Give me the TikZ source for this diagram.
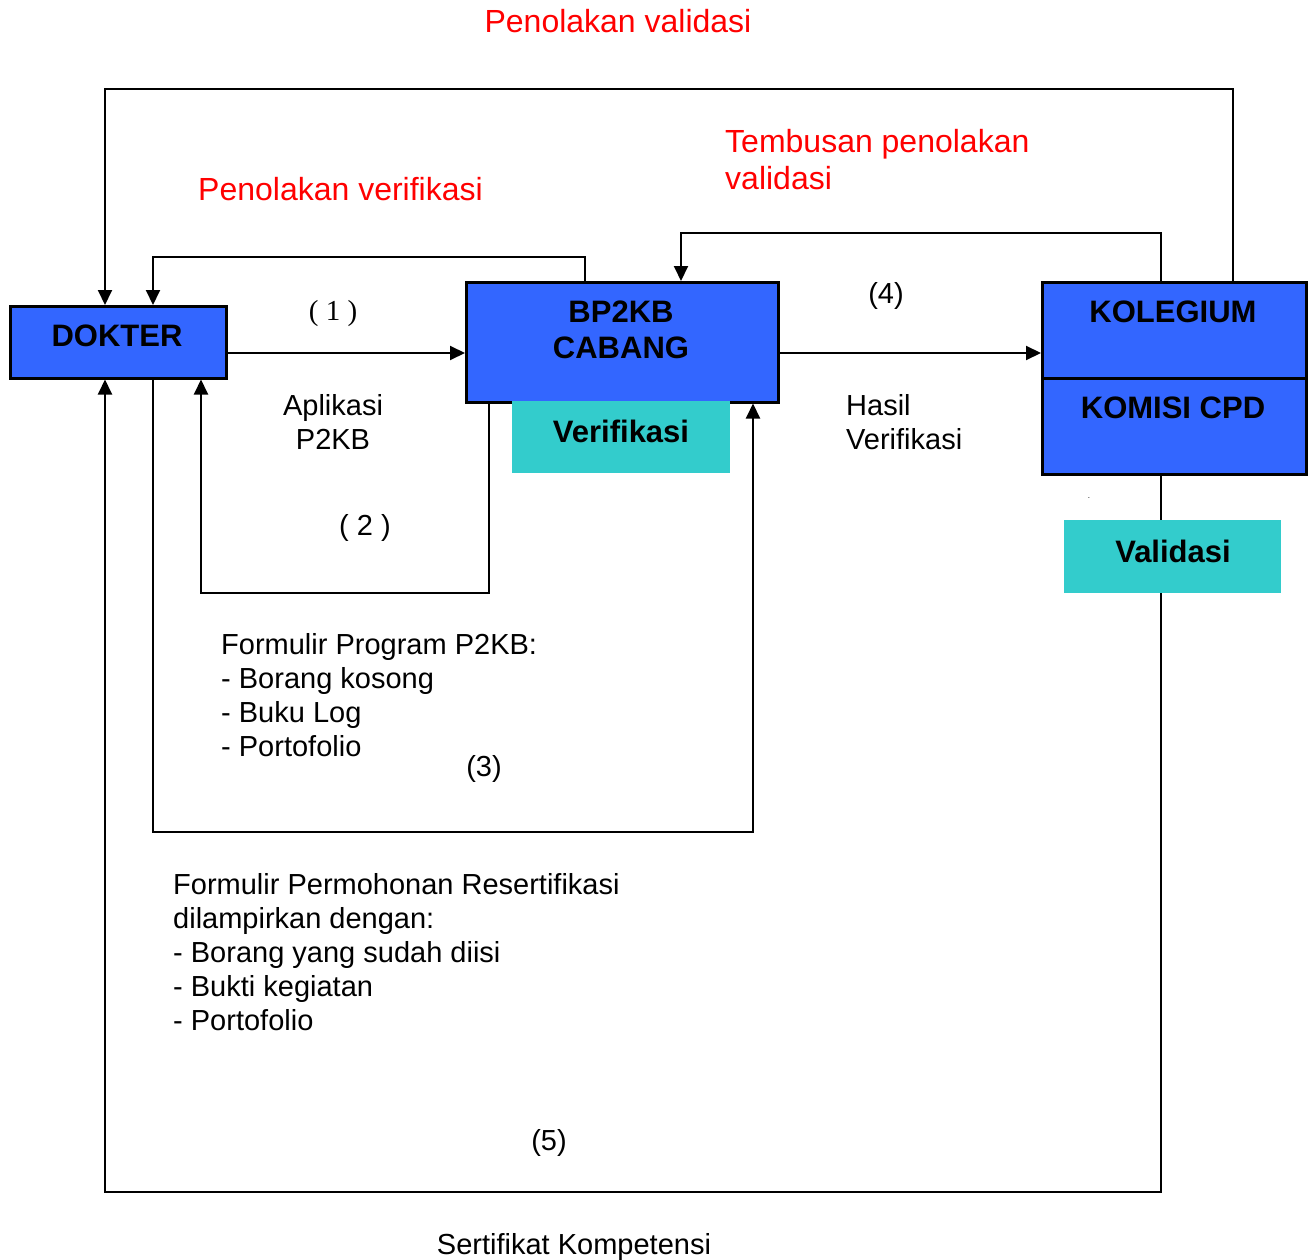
\documentclass[tikz,border=0pt]{standalone}
\usepackage{fontspec}
\setmainfont{Liberation Sans}
\newfontfamily\timesf{Liberation Serif}
\usetikzlibrary{arrows.meta}
\definecolor{boxblue}{HTML}{3366FF}
\definecolor{boxteal}{HTML}{33CCCC}
\definecolor{redtxt}{HTML}{FF0000}
\tikzset{
  bluebox/.style={draw=black, line width=2.5pt, fill=boxblue, inner sep=0pt, anchor=north west},
  tealbox/.style={fill=boxteal, inner sep=0pt, anchor=north west},
  boxtxt/.style={font=\fontsize{31}{36}\selectfont\bfseries, inner sep=0pt, anchor=base, align=center},
  redlbl/.style={text=redtxt, font=\fontsize{32}{37}\selectfont, inner sep=0pt, anchor=base west, align=left},
  blk/.style={font=\fontsize{29}{34}\selectfont, inner sep=0pt, anchor=base west, align=left},
  blkc/.style={font=\fontsize{29}{34}\selectfont, inner sep=0pt, anchor=base, align=center},
  conn/.style={draw=black, line width=2pt, -{Triangle[length=15pt,width=14pt]}},
}
\begin{document}
\begin{tikzpicture}[x=1pt,y=-1pt]
\useasboundingbox (0,0) rectangle (1309,1260);
% boxes
\node[bluebox, minimum width=216pt, minimum height=72pt] (dok) at (9,305) {};
\node[bluebox, minimum width=312pt, minimum height=120pt] (bp) at (465,281) {};
\node[tealbox, minimum width=218pt, minimum height=72pt] (ver) at (512,401) {};
\node[bluebox, minimum width=264pt, minimum height=96pt] (kol) at (1041,281) {};
\node[bluebox, minimum width=264pt, minimum height=96pt] (kom) at (1041,377) {};
% box texts
\node[boxtxt] (tdok) at (117,346) {DOKTER};
\node[boxtxt] (tbp) at (621,358) {BP2KB\\CABANG};
\node[boxtxt] (tver) at (621,442) {Verifikasi};
\node[boxtxt] (tkol) at (1173,322) {KOLEGIUM};
\node[boxtxt] (tkom) at (1173,418) {KOMISI CPD};
% connectors
\draw[conn] (kol.north -| 1233,0) -- (1233,89) -| (dok.north -| 105,0);
\draw[conn] (bp.north -| 585,0) -- (585,257) -| (dok.north -| 153,0);
\draw[conn] (kol.north -| 1161,0) -- (1161,233) -| (bp.north -| 681,0);
\draw[conn] (dok.east |- 0,353) -- (bp.west |- 0,353);
\draw[conn] (bp.east |- 0,353) -- (kol.west |- 0,353);
\draw[conn] (bp.south -| 489,0) -- (489,593) -| (dok.south -| 201,0);
\draw[conn] (dok.south -| 153,0) -- (153,832) -| (bp.south -| 753,0);
\draw[conn] (kom.south -| 1161,0) -- (1161,1192) -| (dok.south -| 105,0);
% validasi box on top of line
\node[tealbox, minimum width=217pt, minimum height=73pt] (val) at (1064,520) {};
\node[boxtxt] (tval) at (1173,562) {Validasi};
% labels
\node[redlbl, anchor=base] (l0) at (618,33) {Penolakan validasi};
\node[redlbl] (l1) at (725,190) {Tembusan penolakan\\validasi};
\node[redlbl] (l2) at (198,201) {Penolakan verifikasi};
\node[blkc, font=\fontsize{29}{34}\selectfont\timesf] (n1) at (333,320) {( 1 )};
\node[blkc] (n4) at (886,303) {(4)};
\node[blkc] (apl) at (333,449) {Aplikasi\\P2KB};
\node[blkc] (n2) at (365,535) {( 2 )};
\node[blk] (form1) at (221,756) {Formulir Program P2KB:\\- Borang kosong\\- Buku Log\\- Portofolio};
\node[blkc] (n3) at (484,776) {(3)};
\node[blk] (hasil) at (846,449) {Hasil\\Verifikasi};
\node[blk] (form2) at (173,1030) {Formulir Permohonan Resertifikasi\\dilampirkan dengan:\\- Borang yang sudah diisi\\- Bukti kegiatan\\- Portofolio};
\node[blkc] (n5) at (549,1150) {(5)};
\node[blkc] (sert) at (574,1254) {Sertifikat Kompetensi};
\node[font=\fontsize{8}{8}\selectfont, inner sep=0pt, anchor=base] (dot) at (1089,498) {.};
\end{tikzpicture}
\end{document}
